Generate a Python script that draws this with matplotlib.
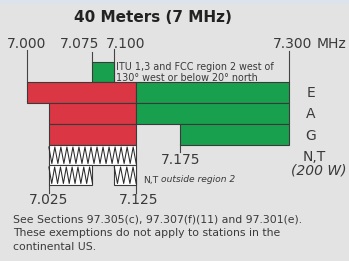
import numpy as np
import matplotlib
matplotlib.use("Agg")
import matplotlib.pyplot as plt
from matplotlib.patches import Rectangle

plt.rcParams['font.family'] = ['DejaVu Sans']

# band edges (MHz)
edges = [7.000, 7.075, 7.100, 7.300]
edge_labels = ['7.000', '7.075', '7.100', '7.300']
low_edges = [7.025, 7.125]
mid_edge = 7.175

# license classes and their segments (start, end)
classes = ['E', 'A', 'G']
cw_segs = [(7.000, 7.125), (7.025, 7.125), (7.025, 7.125)]
phone_segs = [(7.125, 7.300), (7.125, 7.300), (7.175, 7.300)]
itu_seg = (7.075, 7.100)
nt_row1 = [(7.025, 7.125)]
nt_row2 = [(7.025, 7.075), (7.100, 7.125)]

red = '#da3644'
green = '#19a04e'
edge = '#3a3a3a'
bg = '#e3e3e3'

# pixel geometry
W, H = 349, 261
px_per_mhz = 873.3
x0px = 27
fmin = 7.0 - x0px / px_per_mhz
fmax = 7.0 + (W - x0px) / px_per_mhz


def px(x):
    # pixel column -> frequency
    return fmin + x / px_per_mhz


fig = plt.figure(figsize=(W / 100, H / 100), dpi=100, facecolor=bg)
ax = fig.add_axes([0, 0, 1, 1])
ax.set_xlim(fmin, fmax)
ax.set_ylim(H, 0)
ax.axis('off')
ax.set_facecolor(bg)

ax.axhspan(0, 3, color='#dde3ea', zorder=0)

row_top = [82, 103, 124]
row_h = 21

# ITU box
ax.add_patch(Rectangle((itu_seg[0], 62), itu_seg[1] - itu_seg[0], 20,
                       facecolor=green, edgecolor=edge, lw=0.8, zorder=2))

for i, c in enumerate(classes):
    y = row_top[i]
    a, b = cw_segs[i]
    ax.add_patch(Rectangle((a, y), b - a, row_h, facecolor=red, edgecolor=edge, lw=0.8, zorder=2))
    a, b = phone_segs[i]
    ax.add_patch(Rectangle((a, y), b - a, row_h, facecolor=green, edgecolor=edge, lw=0.8, zorder=2))


def zigzag(a, b, ytop, ybot):
    ax.add_patch(Rectangle((a, ytop), b - a, ybot - ytop, facecolor='white',
                           edgecolor=edge, lw=0.8, zorder=2))
    step = 3.0 / px_per_mhz
    n = int(round((b - a) / step))
    xs = np.linspace(a, b, n + 1)
    ys = [ytop + 2 if k % 2 == 0 else ybot - 1.5 for k in range(n + 1)]
    ax.plot(xs, ys, color='#2a2a2a', lw=0.75, zorder=3)


for a, b in nt_row1:
    zigzag(a, b, 145, 165)
for a, b in nt_row2:
    zigzag(a, b, 165, 185)

# vertical marker lines
lc = '#444444'
ax.plot([edges[0], edges[0]], [50, 82], color=lc, lw=0.8, zorder=1)
ax.plot([edges[1], edges[1]], [52, 62], color=lc, lw=0.8, zorder=1)
ax.plot([edges[2], edges[2]], [49, 82], color=lc, lw=0.8, zorder=1)
ax.plot([edges[3], edges[3]], [51, 82], color=lc, lw=0.8, zorder=1)
ax.plot([mid_edge, mid_edge], [144, 152], color=lc, lw=0.8, zorder=1)
ax.plot([low_edges[0], low_edges[0]], [185, 193], color=lc, lw=0.8, zorder=1)
ax.plot([low_edges[1], low_edges[1]], [165, 193], color=lc, lw=0.8, zorder=1)

tc = '#3a3a3a'
ax.text(px(153), 18, '40 Meters (7 MHz)', ha='center', va='center',
        fontsize=11, fontweight='bold', color='#222222')

label_px = [27, 80, 126, 293]
for xp, lab in zip(label_px, edge_labels):
    ax.text(px(xp), 44, lab, ha='center', va='center', fontsize=10, color=tc)
ax.text(px(317), 44, 'MHz', ha='left', va='center', fontsize=10, color=tc)

ax.text(px(116), 62, 'ITU 1,3 and FCC region 2 west of\n130° west or below 20° north',
        ha='left', va='top', fontsize=6.9, color=tc, linespacing=1.15)

ax.text(px(181), 160, '7.175', ha='center', va='center', fontsize=10, color=tc)
ax.text(px(48.5), 200, '7.025', ha='center', va='center', fontsize=10, color=tc)
ax.text(px(139), 200, '7.125', ha='center', va='center', fontsize=10, color=tc)
ax.text(px(143), 180, 'N,T', ha='left', va='center', fontsize=6.6, color=tc)
ax.text(px(161), 180, 'outside region 2', ha='left', va='center', fontsize=6.6,
        color=tc, style='italic')

for xp, y, lab in zip([311, 311, 311, 314], [93, 114, 136, 157], classes + ['N,T']):
    ax.text(px(xp), y, lab, ha='center', va='center', fontsize=10, color=tc)
ax.text(px(319), 171, '(200 W)', ha='center', va='center', fontsize=10,
        color=tc, style='italic')

ax.text(px(13), 233,
        'See Sections 97.305(c), 97.307(f)(11) and 97.301(e).\n'
        'These exemptions do not apply to stations in the\n'
        'continental US.',
        ha='left', va='center', fontsize=7.8, color=tc, linespacing=1.45)

fig.savefig('out.png', dpi=100, facecolor=bg)
